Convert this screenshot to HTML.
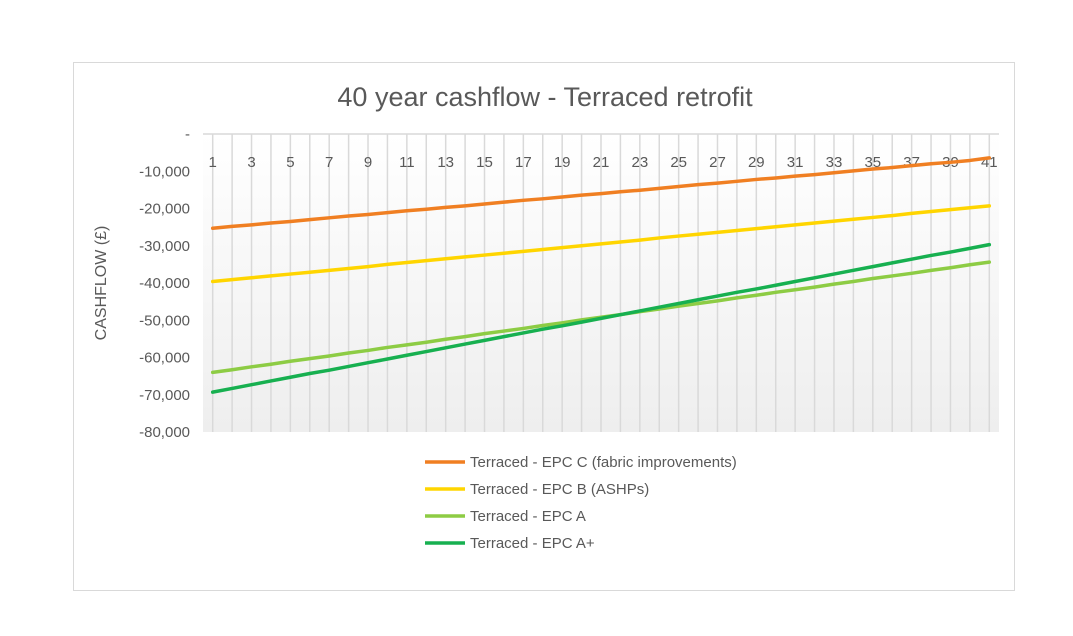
<!DOCTYPE html>
<html><head><meta charset="utf-8"><style>
body{margin:0;background:#fff;font-family:"Liberation Sans",sans-serif}
svg{display:block}
</style></head><body>
<svg width="1073" height="636" xmlns="http://www.w3.org/2000/svg">
<defs><linearGradient id="bg" x1="0" y1="0" x2="0" y2="1"><stop offset="0" stop-color="#ffffff"/><stop offset="1" stop-color="#eeeeee"/></linearGradient></defs>
<rect x="73.5" y="62.5" width="941" height="528" fill="#fff" stroke="#d9d9d9"/>
<text x="545" y="106" text-anchor="middle" font-size="27" fill="#595959">40 year cashflow - Terraced retrofit</text>
<rect x="203" y="134" width="796" height="298" fill="url(#bg)"/>
<g id="grid"></g>
<g id="yaxis"></g>
<g id="xaxis"></g>
<text transform="translate(106,283) rotate(-90)" text-anchor="middle" font-size="16" fill="#595959">CASHFLOW (£)</text>
<g id="series"></g>
<g id="legend"></g>
</svg>
<script>
const categories=Array.from({length:41},(_,i)=>i+1);
const yTicks=[0,-10000,-20000,-30000,-40000,-50000,-60000,-70000,-80000];
const yTickLabels=["-","-10,000","-20,000","-30,000","-40,000","-50,000","-60,000","-70,000","-80,000"];
const seriesNames=["Terraced - EPC C (fabric improvements)","Terraced - EPC B (ASHPs)","Terraced - EPC A","Terraced - EPC A+"];
const epcC=[-25300,-24800,-24400,-23900,-23500,-23000,-22500,-22000,-21600,-21100,-20600,-20200,-19700,-19300,-18800,-18300,-17800,-17400,-16900,-16400,-16000,-15500,-15100,-14600,-14100,-13600,-13200,-12700,-12200,-11800,-11300,-10900,-10400,-9900,-9400,-9000,-8500,-8000,-7600,-7100,-6400];
const epcB=[-39600,-39100,-38600,-38100,-37600,-37100,-36600,-36100,-35600,-35000,-34500,-34000,-33500,-33000,-32500,-32000,-31500,-31000,-30500,-30000,-29500,-29000,-28500,-27900,-27400,-26900,-26400,-25900,-25400,-24900,-24400,-23900,-23400,-22900,-22400,-21900,-21300,-20800,-20300,-19800,-19300];
const epcA=[-64000,-63300,-62500,-61800,-61000,-60300,-59600,-58800,-58100,-57300,-56600,-55900,-55100,-54400,-53600,-52900,-52200,-51400,-50700,-49900,-49200,-48500,-47700,-47000,-46200,-45500,-44800,-44000,-43300,-42500,-41800,-41100,-40300,-39600,-38800,-38100,-37400,-36600,-35900,-35100,-34400];
const epcAplus=[-69300,-68300,-67300,-66300,-65300,-64300,-63400,-62400,-61400,-60400,-59400,-58400,-57400,-56400,-55400,-54400,-53400,-52400,-51500,-50500,-49500,-48500,-47500,-46500,-45500,-44500,-43500,-42500,-41600,-40600,-39600,-38600,-37600,-36600,-35600,-34600,-33600,-32600,-31700,-30700,-29700];
const colors=["#f07f22","#ffd500","#8dcc44","#17b050"];
const NS="http://www.w3.org/2000/svg";
const x0=203,x1=999,y0=134,y1=432;
const step=(x1-x0)/categories.length;
const xs=i=>x0+step*(i+0.5);
const ys=v=>y0+(0-v)/80000*(y1-y0);
function mk(tag,attrs,parent,txt){const e=document.createElementNS(NS,tag);for(const k in attrs)e.setAttribute(k,attrs[k]);if(txt!==undefined)e.textContent=txt;parent.appendChild(e);return e;}
const grid=document.getElementById('grid');
categories.forEach((c,i)=>{const l=mk('line',{x1:xs(i),x2:xs(i),y1:y0,y2:y1,stroke:'#d9d9d9','stroke-width':1.5},grid);

});
const zeroLine=mk('line',{x1:x0,x2:x1,y1:y0,y2:y0,stroke:'#d9d9d9','stroke-width':1.5},grid);


const ya=document.getElementById('yaxis');
yTicks.forEach((v,i)=>{const t=mk('text',{x:190,y:ys(v)+5,'text-anchor':'end','font-size':15,fill:'#595959'},ya,yTickLabels[i]);

});
const xa=document.getElementById('xaxis');
categories.forEach((c,i)=>{if(i%2)return;const t=mk('text',{x:xs(i),y:167,'text-anchor':'middle','font-size':15,fill:'#595959'},xa,String(c));

});
const sg=document.getElementById('series');
[epcC,epcB,epcA,epcAplus].forEach((arr,s)=>{const p=mk('polyline',{points:arr.map((v,i)=>xs(i)+','+ys(v)).join(' '),fill:'none',stroke:colors[s],'stroke-width':3.5,'stroke-linejoin':'round','stroke-linecap':'round'},sg);

});
const lg=document.getElementById('legend');
seriesNames.forEach((n,s)=>{const y=462+s*27;const g=mk('g',{},lg);


mk('line',{x1:425,x2:465,y1:y,y2:y,stroke:colors[s],'stroke-width':3.5},g);
mk('text',{x:470,y:y+5,'font-size':15,fill:'#595959'},g,n);});
</script>
</body></html>
